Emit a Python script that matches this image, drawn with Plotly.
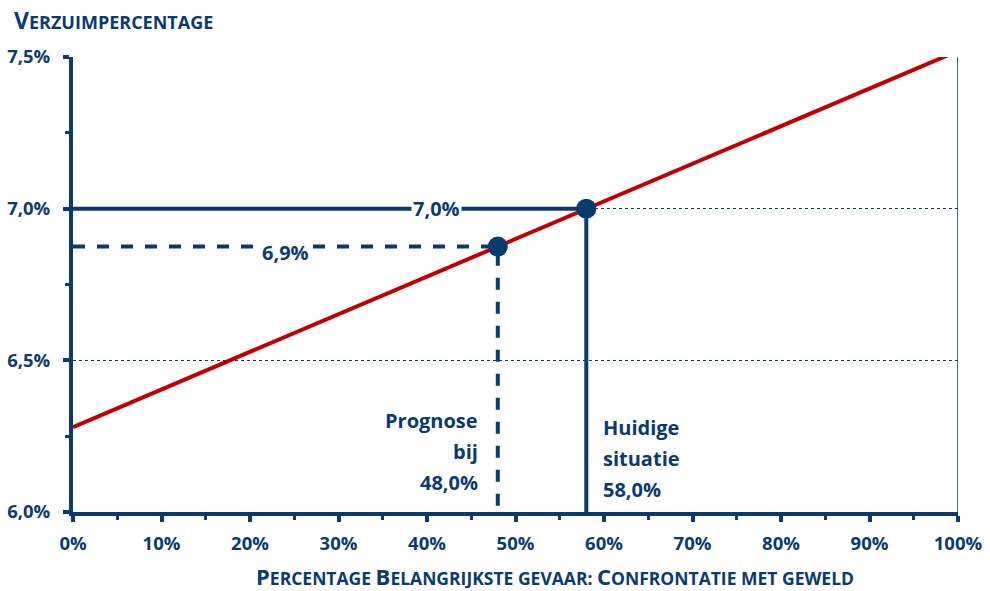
import plotly.graph_objects as go

# Trend line: absence percentage vs. share of employees naming violence as main hazard
trend_x = [0, 100]
trend_y = [6.28, 7.52]

# Current situation and forecast
current_x, current_y = 58.0, 7.0
forecast_x, forecast_y = 48.0, 6.875

x_ticks = [0, 10, 20, 30, 40, 50, 60, 70, 80, 90, 100]
y_ticks = [6.0, 6.5, 7.0, 7.5]

NAVY = "#0B3A6E"
RED = "#C00000"
FONT = "Open Sans"


def nl(v):
    return f"{v:.1f}".replace(".", ",")


fig = go.Figure()

# Reference lines from the points to the axes
fig.add_trace(go.Scatter(
    x=[0, current_x, current_x], y=[current_y, current_y, y_ticks[0]],
    mode="lines", line=dict(color=NAVY, width=4), hoverinfo="skip"))
fig.add_trace(go.Scatter(
    x=[0, forecast_x, forecast_x], y=[forecast_y, forecast_y, y_ticks[0]],
    mode="lines", line=dict(color=NAVY, width=4, dash="dash"), hoverinfo="skip"))

# Red trend line
fig.add_trace(go.Scatter(
    x=trend_x, y=trend_y, mode="lines",
    line=dict(color=RED, width=4), hoverinfo="skip"))

# Points on the trend line
fig.add_trace(go.Scatter(
    x=[forecast_x, current_x], y=[forecast_y, current_y], mode="markers",
    marker=dict(color=NAVY, size=20), cliponaxis=False, hoverinfo="skip"))

# Right border of the plot area
fig.add_shape(type="line", xref="x", yref="y",
              x0=100, x1=100, y0=y_ticks[0], y1=y_ticks[-1],
              line=dict(color=NAVY, width=1.5))

lab_font = dict(family=FONT, size=20, color=NAVY, weight="bold")

fig.add_annotation(x=41.1, y=current_y, text=f"{nl(current_y)}%", showarrow=False,
                   bgcolor="white", font=lab_font, borderpad=1)
fig.add_annotation(x=24.0, y=forecast_y, yshift=-6, text=f"{nl(forecast_y)}%",
                   showarrow=False, bgcolor="white", font=lab_font, borderpad=1)

# Multi-line callouts, one annotation per line for wider line spacing
forecast_lines = ["Prognose", "bij", f"{nl(forecast_x)}%"]
current_lines = ["Huidige", "situatie", f"{nl(current_x)}%"]
for i, line in enumerate(forecast_lines):
    fig.add_annotation(x=46.0, y=y_ticks[0], yshift=92 - 31 * i, xanchor="right",
                       yanchor="middle", showarrow=False, font=lab_font, text=line)
for i, line in enumerate(current_lines):
    fig.add_annotation(x=59.7, y=y_ticks[0], yshift=85 - 31 * i, xanchor="left",
                       yanchor="middle", showarrow=False, font=lab_font, text=line)

# Axis titles in small caps style
fig.add_annotation(xref="paper", yref="paper", x=-0.069, y=1.0, yshift=37,
                   xanchor="left", yanchor="middle", showarrow=False,
                   font=dict(family=FONT, size=18, color=NAVY, weight="bold"),
                   text="<span style='font-size:23px'>V</span>ERZUIMPERCENTAGE")
fig.add_annotation(xref="paper", yref="paper", x=0.545, y=0, yshift=-64,
                   xanchor="center", yanchor="middle", showarrow=False,
                   font=dict(family=FONT, size=17.5, color=NAVY, weight="bold"),
                   text=("<span style='font-size:22px'>P</span>ERCENTAGE "
                         "<span style='font-size:22px'>B</span>ELANGRIJKSTE GEVAAR: "
                         "<span style='font-size:22px'>C</span>ONFRONTATIE MET GEWELD"))

fig.update_layout(
    width=990, height=591,
    margin=dict(l=73, r=32, t=57, b=79, autoexpand=False),
    plot_bgcolor="white", paper_bgcolor="white",
    showlegend=False,
    font=dict(family=FONT, color=NAVY),
)

fig.update_xaxes(
    range=[0, 100], tickvals=x_ticks, ticktext=[f"{v}%" for v in x_ticks],
    automargin=False,
    showgrid=False, zeroline=False,
    showline=True, linecolor=NAVY, linewidth=4,
    ticks="outside", ticklen=6, tickwidth=4, tickcolor=NAVY,
    minor=dict(dtick=5, tick0=0, ticks="outside", ticklen=4, tickwidth=3, tickcolor=NAVY),
    tickfont=dict(family=FONT, size=18.5, color=NAVY, weight="bold"),
    ticklabelstandoff=6,
)
fig.update_yaxes(
    range=[6.0, 7.5], tickvals=y_ticks, ticktext=[f"{nl(v)}%" for v in y_ticks],
    automargin=False,
    showgrid=True, gridcolor=NAVY, gridwidth=1, griddash="dot",
    zeroline=False,
    showline=True, linecolor=NAVY, linewidth=4,
    ticks="outside", ticklen=6, tickwidth=4, tickcolor=NAVY,
    minor=dict(dtick=0.25, tick0=6.0, ticks="outside", ticklen=4, tickwidth=3,
               tickcolor=NAVY, showgrid=False),
    tickfont=dict(family=FONT, size=18.5, color=NAVY, weight="bold"),
    ticklabelstandoff=9,
)

fig.write_html("out.html")
